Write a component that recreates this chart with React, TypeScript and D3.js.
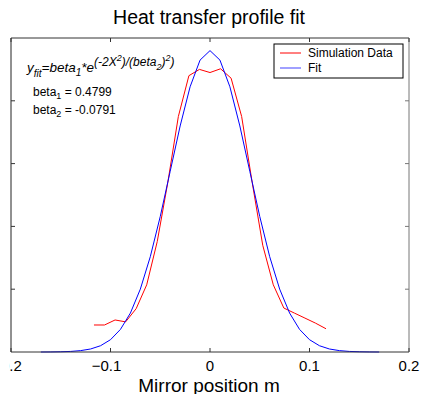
import React from 'react';
import * as d3 from 'd3';

// fitted gaussian, sampled every 0.01 m
const fitX = [
  -0.17, -0.16, -0.15, -0.14, -0.13, -0.12, -0.11, -0.1, -0.09, -0.08, -0.07, -0.06,
  -0.05, -0.04, -0.03, -0.02, -0.01, 0, 0.01, 0.02, 0.03, 0.04, 0.05, 0.06, 0.07,
  0.08, 0.09, 0.1, 0.11, 0.12, 0.13, 0.14, 0.15, 0.16, 0.17,
];
const fitY = [
  0.0, 0.0001, 0.0004, 0.0009, 0.0022, 0.0048, 0.01, 0.0196, 0.036, 0.062, 0.1002, 0.1518,
  0.2158, 0.2878, 0.3599, 0.4223, 0.4648, 0.4799, 0.4648, 0.4223, 0.3599, 0.2878, 0.2158,
  0.1518, 0.1002, 0.062, 0.036, 0.0196, 0.01, 0.0048, 0.0022, 0.0009, 0.0004, 0.0001, 0.0,
];

// simulation samples
const simX = [
  -0.1166, -0.106, -0.0954, -0.0848, -0.0742, -0.0636, -0.053, -0.0424, -0.0318, -0.0212,
  -0.0106, 0, 0.0106, 0.0212, 0.0318, 0.0424, 0.053, 0.0636, 0.0742, 0.0848, 0.0954, 0.106,
  0.1166,
];
const simY = [
  0.043, 0.043, 0.051, 0.048, 0.069, 0.107, 0.176, 0.27, 0.375, 0.44, 0.45, 0.445, 0.451,
  0.436, 0.375, 0.27, 0.17, 0.107, 0.07, 0.062, 0.054, 0.046, 0.037,
];

const xTicks = [-0.2, -0.1, 0, 0.1, 0.2];
const yTicks = [0.1, 0.2, 0.3, 0.4];
const legendLabels = ['Simulation Data', 'Fit'];

const W = 421;
const H = 394;
const left = 11;
const right = 409;
const top = 38;
const bottom = 352;
const font = '"Liberation Sans", Arial, sans-serif';

export default function App() {
  const x = d3.scaleLinear().domain([-0.2, 0.2]).range([left, right]);
  const y = d3.scaleLinear().domain([0, 0.5]).range([bottom, top]);

  const line = d3
    .line<[number, number]>()
    .x(d => x(d[0]))
    .y(d => y(d[1]));

  const fitPath = line(fitX.map((v, i) => [v, fitY[i]]) as [number, number][]) || '';
  const simPath = line(simX.map((v, i) => [v, simY[i]]) as [number, number][]) || '';

  const tick = 4;

  return (
    <div style={{ position: 'absolute', left: 0, top: 0 }}>
      <svg width={W} height={H} style={{ display: 'block', background: '#fff' }} fontFamily={font}>
        <defs>
          {/* the figure is cropped just left of the axes, so the -0.2 label only shows ".2" */}
          <clipPath id="crop">
            <rect x={9} y={0} width={W - 9} height={H} />
          </clipPath>
        </defs>
        <rect x={0} y={0} width={W} height={H} fill="#fff" />

        {/* title */}
        <text x={209} y={24} textAnchor="middle" fontSize={19.5} fill="#000">
          Heat transfer profile fit
        </text>

        {/* curves */}
        <path d={simPath} fill="none" stroke="#ff0000" strokeWidth={1} />
        <path d={fitPath} fill="none" stroke="#0000ff" strokeWidth={1} />

        {/* frame */}
        <line x1={left} x2={right} y1={top} y2={top} stroke="#333" />
        <line x1={left} x2={right} y1={bottom} y2={bottom} stroke="#333" />
        <line x1={left} x2={left} y1={top} y2={bottom} stroke="#222" />
        <line x1={right} x2={right} y1={top} y2={bottom} stroke="#777" />

        {/* x ticks */}
        <g clipPath="url(#crop)">
          {xTicks.map(t => (
            <g key={'x' + t}>
              <line x1={x(t)} x2={x(t)} y1={bottom} y2={bottom - tick} stroke="#333" />
              <line x1={x(t)} x2={x(t)} y1={top} y2={top + tick} stroke="#333" />
              <text x={x(t) + (t < 0 ? -4 : 0)} y={371} textAnchor="middle" fontSize={15} fill="#000">
                {d3.format('')(t)}
              </text>
            </g>
          ))}
        </g>

        {/* y ticks */}
        {yTicks.map(t => (
          <g key={'y' + t}>
            <line x1={left} x2={left + tick} y1={y(t)} y2={y(t)} stroke="#333" />
            <line x1={right} x2={right - tick} y1={y(t)} y2={y(t)} stroke="#777" />
          </g>
        ))}

        {/* x label */}
        <text x={209} y={392} textAnchor="middle" fontSize={19} fill="#000">
          Mirror position m
        </text>

        {/* formula */}
        <text x={27} y={72} fontSize={13.5} fontStyle="italic" fill="#000">
          <tspan>y</tspan>
          <tspan fontSize={10} dy={5}>fit</tspan>
          <tspan dy={-5}>=beta</tspan>
          <tspan fontSize={10} dy={4}>1</tspan>
          <tspan dy={-4}>*e</tspan>
          <tspan fontSize={12} dy={-6}>(-2X</tspan>
          <tspan fontSize={9} dy={-5}>2</tspan>
          <tspan fontSize={12} dy={5}>)/(beta</tspan>
          <tspan fontSize={9} dy={4}>2</tspan>
          <tspan fontSize={12} dy={-4}>)</tspan>
          <tspan fontSize={9} dy={-5}>2</tspan>
          <tspan fontSize={12} dy={5}>)</tspan>
        </text>
        <text x={33} y={96} fontSize={12} fill="#000">
          <tspan>beta</tspan>
          <tspan fontSize={9} dy={3}>1</tspan>
          <tspan dy={-3}> = 0.4799</tspan>
        </text>
        <text x={33} y={114} fontSize={12} fill="#000">
          <tspan>beta</tspan>
          <tspan fontSize={9} dy={3}>2</tspan>
          <tspan dy={-3}> = -0.0791</tspan>
        </text>

        {/* legend */}
        <rect x={274} y={44} width={129} height={34} fill="#fff" stroke="#000" />
        {legendLabels.map((lab, i) => (
          <g key={lab}>
            <line
              x1={280}
              x2={301}
              y1={53 + i * 15}
              y2={53 + i * 15}
              stroke={i === 0 ? '#ff0000' : '#8080ff'}
              strokeWidth={i === 0 ? 1 : 1.5}
            />
            <text x={308} y={57 + i * 15} fontSize={12} fill="#000">
              {lab}
            </text>
          </g>
        ))}
      </svg>
    </div>
  );
}
